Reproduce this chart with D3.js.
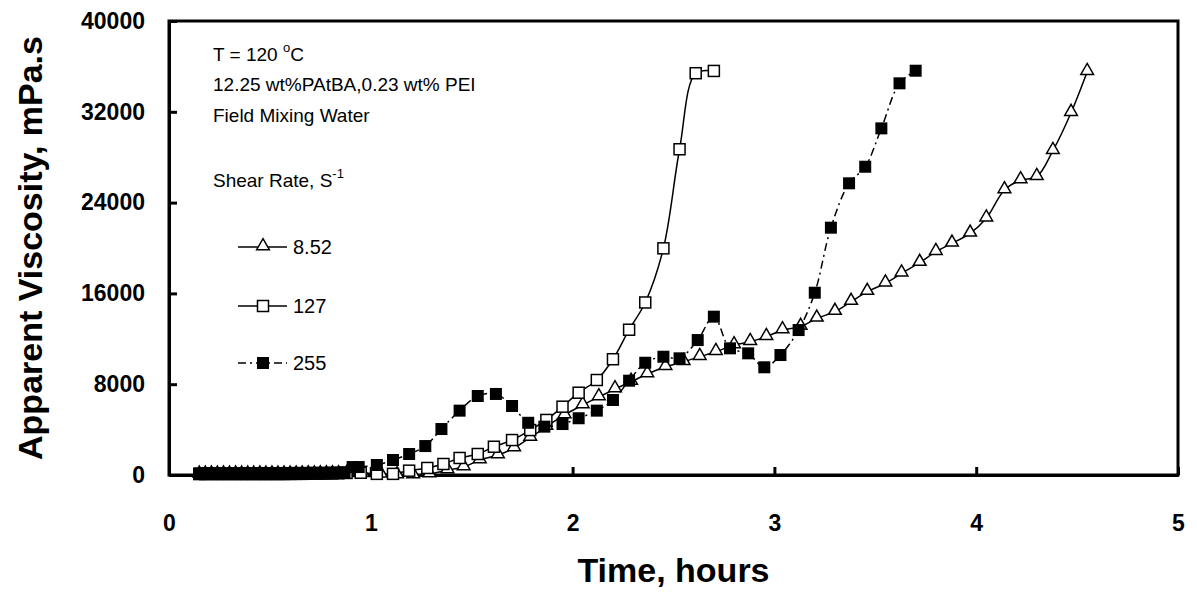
<!DOCTYPE html>
<html>
<head>
<meta charset="utf-8">
<script src="https://cdn.jsdelivr.net/npm/d3@7"></script>
<style>
  body { margin: 0; background: #fff; }
  svg { font-family: Arial, "Liberation Sans", sans-serif; }
  .tick text { font-weight: bold; font-size: 23px; fill: #000; }
</style>
</head>
<body>
<div id="chart"></div>
<script>
// time (hours) and viscosity (mPa.s)
var t852 = [0.15,0.18,0.21,0.24,0.27,0.30,0.33,0.36,0.39,0.42,0.45,0.48,0.51,0.54,0.57,0.60,0.63,0.66,0.69,0.72,0.75,0.78,0.81,0.84,0.88,0.96,
            1.05,1.13,1.21,1.29,1.38,1.46,1.54,1.63,1.71,1.79,1.87,1.96,2.05,2.13,2.21,2.29,2.37,2.46,2.55,2.63,2.71,2.80,2.88,2.96,3.04,3.13,3.21,3.30,3.38,3.46,3.55,3.63,3.72,3.80,3.88,3.97,4.05,4.14,4.22,4.30,4.38,4.47,4.55];
var v852 = [50,50,60,50,60,50,60,50,60,50,60,50,60,50,60,50,60,60,70,60,70,80,80,90,100,100,
            50,0,0,90,440,700,1320,1760,2380,3300,4260,5290,6170,6870,7580,8220,8900,9540,9980,10420,10860,11450,11740,12180,12770,13070,13800,14390,15270,16150,16890,17770,18710,19670,20410,21290,22620,25110,25990,26280,28570,31920,35530];

var t127 = [0.15,0.18,0.21,0.24,0.27,0.30,0.33,0.36,0.39,0.42,0.45,0.48,0.51,0.54,0.57,0.60,0.63,0.66,0.69,0.72,0.75,0.78,0.81,0.84,0.88,0.95,
            1.03,1.11,1.19,1.28,1.36,1.44,1.53,1.61,1.70,1.79,1.87,1.95,2.03,2.12,2.20,2.28,2.36,2.45,2.53,2.61,2.70];
var v127 = [80,80,90,80,90,80,90,80,90,80,90,80,90,80,90,90,100,100,110,110,120,130,140,150,180,200,
            100,100,380,620,970,1500,1850,2490,3080,3960,4850,6020,7250,8370,10200,12800,15200,19970,28700,35400,35600];

var t255 = [0.15,0.18,0.21,0.24,0.27,0.30,0.33,0.36,0.39,0.42,0.45,0.48,0.51,0.54,0.57,0.60,0.63,0.66,0.69,0.72,0.75,0.78,0.81,0.84,0.87,0.91,0.94,
            1.03,1.11,1.19,1.27,1.35,1.44,1.53,1.62,1.70,1.78,1.86,1.95,2.03,2.12,2.20,2.28,2.36,2.45,2.53,2.62,2.70,2.78,2.87,2.95,3.03,3.12,3.20,3.28,3.37,3.45,3.53,3.62,3.70];
var v255 = [150,160,150,160,150,160,170,160,170,160,170,180,170,180,170,180,190,180,190,200,190,200,210,220,230,700,700,
            880,1320,1850,2550,4050,5670,6960,7140,6080,4600,4260,4490,5000,5670,6610,8310,9890,10420,10280,11890,13950,11160,10720,9490,10570,12770,16060,21790,25700,27160,30540,34510,35620];

var xTicks = [0, 1, 2, 3, 4, 5];
var yTicks = [0, 8000, 16000, 24000, 32000, 40000];
var seriesNames = ["8.52", "127", "255"];

var W = 1197, H = 593;
var margin = {top: 21, right: 19, bottom: 118, left: 169},
    width = W - margin.left - margin.right,
    height = H - margin.top - margin.bottom;

var svg = d3.select("#chart")
            .append("svg")
            .attr("width", W)
            .attr("height", H)
            .append("g")
            .attr("transform", "translate(" + margin.left + "," + margin.top + ")");

var x = d3.scaleLinear().domain([0, 5]).range([0, width]);
var y = d3.scaleLinear().domain([0, 40000]).range([height, 0]);

// frame
svg.append("rect")
   .attr("width", width).attr("height", height)
   .attr("fill", "none").attr("stroke", "#000").attr("stroke-width", 3);

var xAxis = svg.append("g")
   .attr("transform", "translate(0," + height + ")")
   .call(d3.axisBottom(x).tickValues(xTicks).tickSizeInner(-8).tickSizeOuter(0).tickPadding(40).tickFormat(d3.format("d")));
xAxis.select(".domain").attr("stroke-width", 3);
xAxis.selectAll(".tick line").attr("stroke-width", 3);

var yAxis = svg.append("g")
   .call(d3.axisLeft(y).tickValues(yTicks).tickSizeInner(-8).tickSizeOuter(0).tickPadding(24).tickFormat(d3.format("d")));
yAxis.select(".domain").attr("stroke-width", 3);
yAxis.selectAll(".tick line").attr("stroke-width", 3);

// axis titles
svg.append("text")
   .text("Time, hours")
   .attr("x", width / 2)
   .attr("y", height + 107)
   .attr("text-anchor", "middle")
   .style("font-weight", "bold").style("font-size", "34px");
svg.append("text")
   .text("Apparent Viscosity, mPa.s")
   .attr("transform", "rotate(-90)")
   .attr("x", -height / 2)
   .attr("y", -127)
   .attr("text-anchor", "middle")
   .style("font-weight", "bold").style("font-size", "34px");

var line = d3.line().curve(d3.curveCatmullRom.alpha(0.5))
             .x(function(d) { return x(d[0]); })
             .y(function(d) { return y(d[1]); });

var d852 = d3.zip(t852, v852), d127 = d3.zip(t127, v127), d255 = d3.zip(t255, v255);

svg.append("path").datum(d852).attr("d", line)
   .attr("fill", "none").attr("stroke", "#000").attr("stroke-width", 1.5);
svg.append("path").datum(d127).attr("d", line)
   .attr("fill", "none").attr("stroke", "#000").attr("stroke-width", 1.5);
svg.append("path").datum(d255).attr("d", line)
   .attr("fill", "none").attr("stroke", "#000").attr("stroke-width", 1.5)
   .attr("stroke-dasharray", "8,4,2,4");

var tri = d3.symbol().type(d3.symbolTriangle).size(70);

function triangles(g, data) {
  g.selectAll("path.tri").data(data).enter().append("path")
   .attr("class", "tri")
   .attr("d", tri)
   .attr("transform", function(d) { return "translate(" + x(d[0]) + "," + (y(d[1]) - 1) + ")"; })
   .attr("fill", "#fff").attr("stroke", "#000").attr("stroke-width", 1.5);
}
function openSquares(g, data) {
  g.selectAll("rect.osq").data(data).enter().append("rect")
   .attr("class", "osq")
   .attr("x", function(d) { return x(d[0]) - 5.5; })
   .attr("y", function(d) { return y(d[1]) - 5.5; })
   .attr("width", 11).attr("height", 11)
   .attr("fill", "#fff").attr("stroke", "#000").attr("stroke-width", 1.5);
}
function filledSquares(g, data) {
  g.selectAll("rect.fsq").data(data).enter().append("rect")
   .attr("class", "fsq")
   .attr("x", function(d) { return x(d[0]) - 6; })
   .attr("y", function(d) { return y(d[1]) - 6; })
   .attr("width", 12).attr("height", 12)
   .attr("fill", "#000");
}

triangles(svg.append("g"), d852);
openSquares(svg.append("g"), d127);
filledSquares(svg.append("g"), d255);

// annotation
var note = svg.append("g").style("font-size", "19px");
var t1 = note.append("text").attr("x", 44).attr("y", 40);
t1.append("tspan").text("T = 120 ");
t1.append("tspan").text("o").attr("dy", -9).style("font-size", "13px");
t1.append("tspan").text("C").attr("dy", 9);
note.append("text").attr("x", 44).attr("y", 70).text("12.25 wt%PAtBA,0.23 wt% PEI");
note.append("text").attr("x", 44).attr("y", 101).text("Field Mixing Water");
var t4 = note.append("text").attr("x", 44).attr("y", 166);
t4.append("tspan").text("Shear Rate, S");
t4.append("tspan").text("-1").attr("dy", -9).style("font-size", "13px");

// legend
var legY = [247 - margin.top, 306 - margin.top, 363 - margin.top];
var lx0 = 69, lx1 = 118, lmx = 94;
var leg = svg.append("g");
leg.append("line").attr("x1", lx0).attr("x2", lx1).attr("y1", legY[0]).attr("y2", legY[0])
   .attr("stroke", "#000").attr("stroke-width", 1.5);
leg.append("path").attr("d", tri).attr("transform", "translate(" + lmx + "," + (legY[0] - 1) + ")")
   .attr("fill", "#fff").attr("stroke", "#000").attr("stroke-width", 1.5);
leg.append("line").attr("x1", lx0).attr("x2", lx1).attr("y1", legY[1]).attr("y2", legY[1])
   .attr("stroke", "#000").attr("stroke-width", 1.5);
leg.append("rect").attr("x", lmx - 5.5).attr("y", legY[1] - 5.5).attr("width", 11).attr("height", 11)
   .attr("fill", "#fff").attr("stroke", "#000").attr("stroke-width", 1.5);
leg.append("line").attr("x1", lx0).attr("x2", lx1).attr("y1", legY[2]).attr("y2", legY[2])
   .attr("stroke", "#000").attr("stroke-width", 1.5).attr("stroke-dasharray", "8,4,2,4");
leg.append("rect").attr("x", lmx - 6).attr("y", legY[2] - 6).attr("width", 12).attr("height", 12)
   .attr("fill", "#000");
leg.selectAll("text.lab").data(seriesNames).enter().append("text")
   .attr("class", "lab")
   .attr("x", lx1 + 6)
   .attr("y", function(d, i) { return legY[i]; })
   .attr("dy", "0.35em")
   .style("font-size", "20px")
   .text(function(d) { return d; });
</script>
</body>
</html>
